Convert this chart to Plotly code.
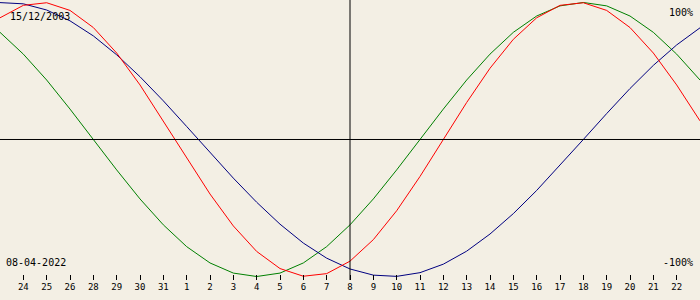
import plotly.graph_objects as go

# Day offsets relative to the target date (08-04-2022)
days = list(range(-15, 16))

# Biorhythm values in percent (one point per day)
physical = [88.8, 97.9, 99.8, 94.2, 81.7, 63.1, 39.8, 13.6, -13.6, -39.8,
            -63.1, -81.7, -94.2, -99.8, -97.9, -88.8, -73.1, -52.0, -27.0, 0.0,
            27.0, 52.0, 73.1, 88.8, 97.9, 99.8, 94.2, 81.7, 63.1, 39.8, 13.6]
emotional = [78.2, 62.3, 43.4, 22.2, 0.0, -22.2, -43.4, -62.3, -78.2, -90.1,
             -97.5, -100.0, -97.5, -90.1, -78.2, -62.3, -43.4, -22.2, 0.0, 22.2,
             43.4, 62.3, 78.2, 90.1, 97.5, 100.0, 97.5, 90.1, 78.2, 62.3, 43.4]
intellectual = [99.9, 99.0, 94.5, 86.6, 75.6, 61.8, 45.8, 28.2, 9.5, -9.5,
                -28.2, -45.8, -61.8, -75.6, -86.6, -94.5, -99.0, -99.9, -97.2, -91.0,
                -81.5, -69.0, -54.1, -37.2, -18.9, 0.0, 18.9, 37.2, 54.1, 69.0, 81.5]

# Tick labels (day of month) as printed under the chart
tick_days = list(range(-14, 15))
tick_labels = ["24", "25", "26", "28", "29", "30", "31", "1", "2", "3", "4", "5",
               "6", "7", "8", "9", "10", "11", "12", "13", "14", "15", "16", "17",
               "18", "19", "20", "21", "22"]

birth_date = "15/12/2003"
target_date = "08-04-2022"

BG = "#F3EFE4"
FONT = "DejaVu Sans Mono"

fig = go.Figure()
fig.add_trace(go.Scatter(x=days, y=emotional, mode="lines",
                         line=dict(color="#008000", width=1), hoverinfo="skip"))
fig.add_trace(go.Scatter(x=days, y=intellectual, mode="lines",
                         line=dict(color="#000080", width=1), hoverinfo="skip"))
fig.add_trace(go.Scatter(x=days, y=physical, mode="lines",
                         line=dict(color="#FF0000", width=1), hoverinfo="skip"))

# centre cross lines
fig.add_shape(type="line", xref="x", yref="paper", x0=0, x1=0, y0=0, y1=1,
              line=dict(color="black", width=1))
fig.add_shape(type="line", xref="paper", yref="y", x0=0, x1=1, y0=0, y1=0,
              line=dict(color="black", width=1))

txt = dict(family=FONT, size=10, color="black")
fig.add_annotation(text=birth_date, xref="paper", yref="paper", x=0.011, y=0.941,
                   xanchor="left", yanchor="middle", showarrow=False, font=txt)
fig.add_annotation(text="100%", xref="paper", yref="paper", x=0.993, y=0.955,
                   xanchor="right", yanchor="middle", showarrow=False, font=txt)
fig.add_annotation(text=target_date, xref="paper", yref="paper", x=0.005, y=0.064,
                   xanchor="left", yanchor="middle", showarrow=False, font=txt)
fig.add_annotation(text="-100%", xref="paper", yref="paper", x=0.993, y=0.064,
                   xanchor="right", yanchor="middle", showarrow=False, font=txt)

fig.update_layout(
    width=700, height=300,
    margin=dict(l=0, r=0, t=0, b=20, pad=0),
    paper_bgcolor=BG, plot_bgcolor=BG,
    showlegend=False,
    xaxis=dict(range=[-15, 15], showgrid=False, zeroline=False, showline=False,
               tickmode="array", tickvals=tick_days, ticktext=tick_labels,
               ticks="inside", ticklen=5, tickwidth=1, tickcolor="black",
               tickfont=dict(family=FONT, size=9, color="black"),
               fixedrange=True),
    yaxis=dict(range=[-102.55, 101.8], showgrid=False, zeroline=False,
               showline=False, showticklabels=False, ticks="", fixedrange=True),
)

fig.write_html("out.html", config={"displayModeBar": False})
